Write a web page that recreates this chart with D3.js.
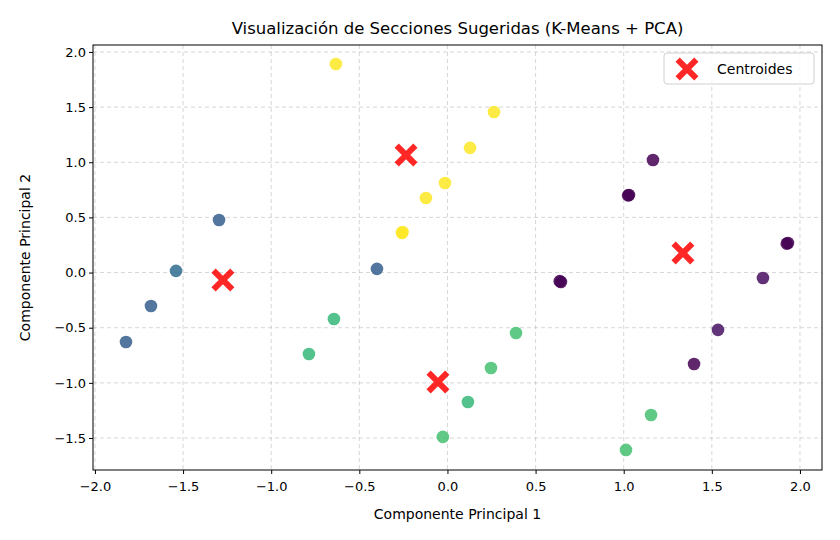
<!DOCTYPE html>
<html><head><meta charset="utf-8">
<script src="https://cdn.jsdelivr.net/npm/d3@7"></script>
<style>body{margin:0;background:#fff;} text{font-family:"DejaVu Sans",sans-serif;}</style>
</head><body>
<svg id="chart" width="840" height="540"></svg>
<script>
// points: x, y, cluster
const ptX = [-0.633, 0.264, 0.128, -0.014, -0.122, -0.258, -0.255,
  1.166, 1.03, 1.025, 1.932, 1.925, 0.644, 0.637, 1.399, 1.79, 1.535,
  -1.296, -1.54, -1.682, -1.824, -0.4,
  -0.644, -0.786, 0.389, 0.247, 0.116, -0.026, 1.155, 1.013];
const ptY = [1.891, 1.456, 1.13, 0.812, 0.676, 0.359, 0.368,
  1.021, 0.703, 0.7, 0.268, 0.262, -0.085, -0.078, -0.829, -0.049, -0.52,
  0.477, 0.015, -0.303, -0.629, 0.033,
  -0.421, -0.738, -0.548, -0.865, -1.173, -1.49, -1.291, -1.608];
const ptC = [3,3,3,3,3,3,3, 0,0,0,0,0,0,0,0,0.1,0.12, 0.88,1.05,0.88,0.88,0.88, 2,2,2.1,2.1,2,2.1,2.1,2.1];
const cenX = [-1.274, -0.235, 1.336, -0.054];
const cenY = [-0.067, 1.066, 0.178, -0.992];
const xTicks = [-2.0,-1.5,-1.0,-0.5,0.0,0.5,1.0,1.5,2.0];
const yTicks = [-1.5,-1.0,-0.5,0.0,0.5,1.0,1.5,2.0];

const svg = d3.select("#chart");
const L=93, R=822, T=45, B=470;
const x = d3.scaleLinear().domain([-2.011, 2.125]).range([L, R]);
const y = d3.scaleLinear().domain([-1.79, 2.063]).range([B, T]);
const fmt = d3.format(".1f");

// grid
svg.append("g").selectAll("line").data(xTicks).join("line")
  .attr("x1", d=>x(d)).attr("x2", d=>x(d)).attr("y1", T).attr("y2", B)
  .attr("stroke", "#b0b0b0").attr("stroke-opacity",0.5).attr("stroke-dasharray","4,3");
svg.append("g").selectAll("line").data(yTicks).join("line")
  .attr("y1", d=>y(d)).attr("y2", d=>y(d)).attr("x1", L).attr("x2", R)
  .attr("stroke", "#b0b0b0").attr("stroke-opacity",0.5).attr("stroke-dasharray","4,3");

// points
svg.append("g").selectAll("circle").data(ptX).join("circle")
  .attr("cx", d=>x(d)).attr("cy", (d,i)=>y(ptY[i])).attr("r", 6.3)
  .attr("fill", (d,i)=>d3.interpolateViridis(ptC[i]/3)).attr("fill-opacity", 0.85);

// centroids
const cross = d3.symbol().type(d3.symbolX).size(230);
svg.append("g").selectAll("path").data(cenX).join("path")
  .attr("d", cross).attr("transform", (d,i)=>`translate(${x(d)},${y(cenY[i])})`)
  .attr("fill", "none").attr("stroke", "#ff0000").attr("stroke-opacity",0.85)
  .attr("stroke-width", 6);

// axes
const gx = svg.append("g").attr("transform", `translate(0,${B})`)
  .call(d3.axisBottom(x).tickValues(xTicks).tickFormat(fmt).tickSize(4));
const gy = svg.append("g").attr("transform", `translate(${L},0)`)
  .call(d3.axisLeft(y).tickValues(yTicks).tickFormat(fmt).tickSize(4));
[gx, gy].forEach(g => { g.select(".domain").remove(); g.selectAll("text").attr("font-size", 13).attr("fill","#000"); g.selectAll("line").attr("stroke","#000"); });
gx.selectAll("text").attr("dy", "1.1em");
svg.append("rect").attr("x", L).attr("y", T).attr("width", R-L).attr("height", B-T)
  .attr("fill", "none").attr("stroke", "#000").attr("stroke-width", 1);

// labels
svg.append("text").attr("x", (L+R)/2).attr("y", 34).attr("text-anchor","middle")
  .attr("font-size", 16.5).text("Visualización de Secciones Sugeridas (K-Means + PCA)");
svg.append("text").attr("x", (L+R)/2).attr("y", 519).attr("text-anchor","middle")
  .attr("font-size", 14).text("Componente Principal 1");
svg.append("text").attr("transform", `translate(30,${(T+B)/2}) rotate(-90)`).attr("text-anchor","middle")
  .attr("font-size", 14).text("Componente Principal 2");

// legend
const lg = svg.append("g").attr("transform", "translate(664,53)");
lg.append("rect").attr("width", 150).attr("height", 31).attr("rx", 3)
  .attr("fill", "#fff").attr("fill-opacity",0.8).attr("stroke", "#d0d0d0");
lg.append("path").attr("d", cross).attr("transform", "translate(23,16)")
  .attr("fill","none").attr("stroke","#ff0000").attr("stroke-opacity",0.85).attr("stroke-width",6);
lg.append("text").attr("x", 53).attr("y", 21).attr("font-size", 14).text("Centroides");
</script>
</body></html>
